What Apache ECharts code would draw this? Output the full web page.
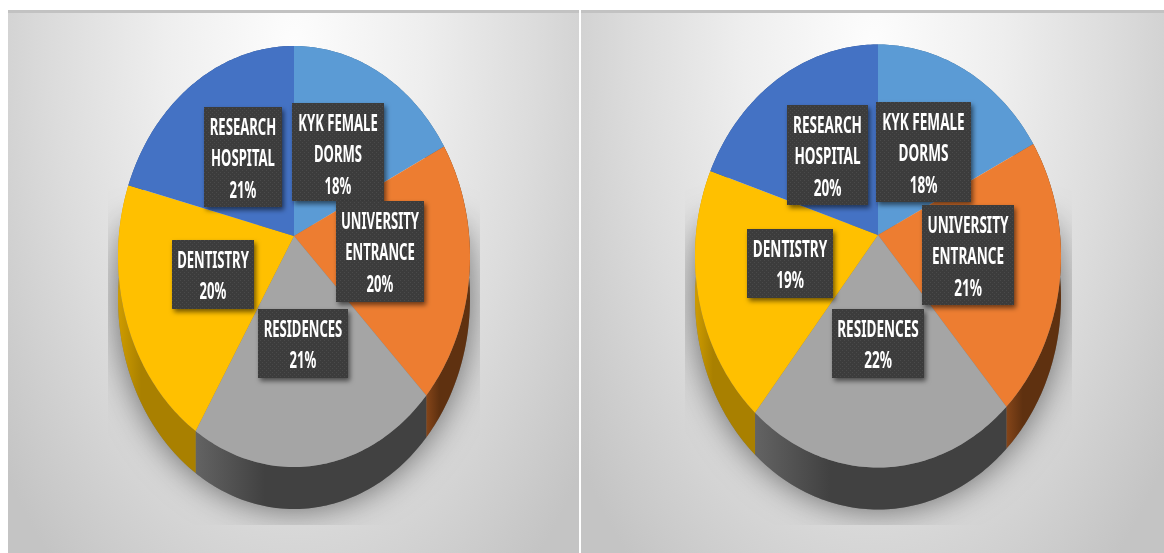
<!DOCTYPE html>
<html>
<head>
<meta charset="utf-8">
<title>Pie charts</title>
<script src="https://cdn.jsdelivr.net/npm/echarts@6/dist/echarts.min.js"></script>
<style>
html, body { margin: 0; padding: 0; background: #fff; }
#wrap { position: relative; width: 1164px; height: 553px; overflow: hidden; }
.panel {
  position: absolute;
  top: 10px;
  height: 543px;
  box-sizing: border-box;
  border-top: 3px solid #c2c2c2;
  background: radial-gradient(ellipse 370px 680px at 50% 6%, #fdfdfd 0%, #eeeeee 35%, #dcdcdc 65%, #c4c4c4 100%);
}
#panelLeft { left: 8px; width: 571px; }
#panelRight { left: 581px; width: 583px; }
#chart { position: absolute; left: 0; top: 0; width: 1164px; height: 553px; }
</style>
</head>
<body>
<div id="wrap">
  <div class="panel" id="panelLeft"></div>
  <div class="panel" id="panelRight"></div>
  <div id="chart"></div>
</div>
<script>
const categories = ['KYK FEMALE\nDORMS', 'UNIVERSITY\nENTRANCE', 'RESIDENCES', 'DENTISTRY', 'RESEARCH\nHOSPITAL']
const leftValues = [17.6, 20, 21, 20.4, 21]
const rightValues = [17.5, 21.2, 22, 19.4, 19.9]

const topColors = ['#5b9bd5', '#ed7d31', '#a5a5a5', '#ffc000', '#4472c4']
const sideColors = [
  ['#3f6f9c', '#3a678f'],
  ['#854519', '#5f3110'],
  ['#636363', '#414141'],
  ['#cf9c00', '#a98000'],
  ['#2f5597', '#2a4c88']
]

// label boxes: x, y, w, h
const leftBoxes = [[292, 103, 92, 98], [336, 201, 88, 101], [258, 309, 90, 69], [172, 240, 82, 69], [204, 107, 78, 100]]
const rightBoxes = [[876, 102, 95, 100], [922, 205, 92, 100], [832, 309, 92, 69], [747, 229, 86, 69], [787, 105, 81, 100]]

const leftPie = { cx: 294, cy: 236, topR: 190, botR: 231, halfW: 176, depth: 42, textScale: 0.545, boxes: leftBoxes, clip: [108, 180, 372, 345] }
const rightPie = { cx: 878, cy: 235, topR: 190.5, botR: 232.5, halfW: 183, depth: 42, textScale: 0.565, boxes: rightBoxes, clip: [685, 180, 387, 345] }

// tilted disc: unit circle goes through a perspective map so the hub sits above the middle
const project = (pie, deg, offset) => {
  const c = (pie.botR - pie.topR) / (pie.botR + pie.topR)
  const a = pie.halfW * Math.sqrt(1 - c * c)
  const b = pie.topR * (1 + c)
  const u = Math.sin(deg * Math.PI / 180)
  const v = -Math.cos(deg * Math.PI / 180)
  const w = 1 - c * v
  return [pie.cx + a * u / w, pie.cy + offset + b * v / w]
}

const arcPoints = (pie, from, to, offset) => {
  const pts = []
  for (let d = from; d < to; d += 1) pts.push(project(pie, d, offset))
  pts.push(project(pie, to, offset))
  return pts
}

const dotPattern = (() => {
  const canvas = document.createElement('canvas')
  canvas.width = 4
  canvas.height = 4
  const ctx = canvas.getContext('2d')
  ctx.fillStyle = '#3c3c3c'
  ctx.fillRect(0, 0, 4, 4)
  ctx.fillStyle = '#4a4a4a'
  ctx.fillRect(0, 0, 1, 1)
  ctx.fillRect(2, 2, 1, 1)
  return { image: canvas, repeat: 'repeat' }
})()

const renderSlice = (pie, values) => (params, api) => {
  const i = params.dataIndex
  const value = api.value(0)
  const total = values.reduce((s, v) => s + v, 0)
  const before = values.slice(0, i).reduce((s, v) => s + v, 0)
  const from = before / total * 360
  const to = (before + value) / total * 360

  const top = arcPoints(pie, from, to, 0)
  const bottom = arcPoints(pie, from, to, pie.depth).reverse()
  const children = []

  if (i === 0) {
    // soft shadow under the lower part of the disc, cut off square like the source
    children.push({
      type: 'group',
      clipPath: { type: 'rect', shape: { x: pie.clip[0], y: pie.clip[1], width: pie.clip[2], height: pie.clip[3] } },
      children: [{
        type: 'polygon',
        z2: 0,
        shape: { points: arcPoints(pie, 75, 285, pie.depth) },
        style: { fill: '#777', shadowBlur: 34, shadowColor: 'rgba(0,0,0,0.55)' }
      }]
    })
  }

  children.push({
    type: 'polygon',
    z2: 1,
    shape: { points: top.concat(bottom) },
    style: {
      fill: {
        type: 'linear', x: 0, y: 0, x2: 1, y2: 0,
        colorStops: [
          { offset: 0, color: sideColors[i][0] },
          { offset: 0.3, color: sideColors[i][1] },
          { offset: 1, color: sideColors[i][1] }
        ]
      }
    }
  })
  children.push({
    type: 'polygon',
    z2: 2,
    shape: { points: [[pie.cx, pie.cy]].concat(top) },
    style: { fill: topColors[i] }
  })

  const box = pie.boxes[i]
  children.push({
    type: 'rect',
    z2: 3,
    shape: { x: box[0], y: box[1], width: box[2], height: box[3] },
    style: { fill: dotPattern, shadowBlur: 5, shadowOffsetX: 2, shadowOffsetY: 3, shadowColor: 'rgba(0,0,0,0.55)' }
  })

  const lines = categories[i].split('\n').concat([Math.round(value) + '%'])
  lines.forEach((line, n) => {
    children.push({
      type: 'text',
      z2: 4,
      x: box[0] + box[2] / 2,
      y: box[1] + 21 + n * 31.5,
      scaleX: pie.textScale,
      style: {
        text: line,
        x: 0,
        y: 0,
        align: 'center',
        verticalAlign: 'middle',
        fontFamily: '"Noto Sans", sans-serif',
        fontSize: 24,
        fontWeight: 700,
        fill: '#fff'
      }
    })
  })

  return { type: 'group', children }
}

const makeSeries = (pie, values) => ({
  type: 'custom',
  coordinateSystem: 'none',
  silent: true,
  animation: false,
  data: values.map((v, i) => ({ name: categories[i], value: [v] })),
  renderItem: renderSlice(pie, values)
})

const chart = echarts.init(document.getElementById('chart'), null, { renderer: 'canvas' })
chart.setOption({
  animation: false,
  backgroundColor: 'transparent',
  series: [makeSeries(leftPie, leftValues), makeSeries(rightPie, rightValues)]
})
</script>
</body>
</html>
